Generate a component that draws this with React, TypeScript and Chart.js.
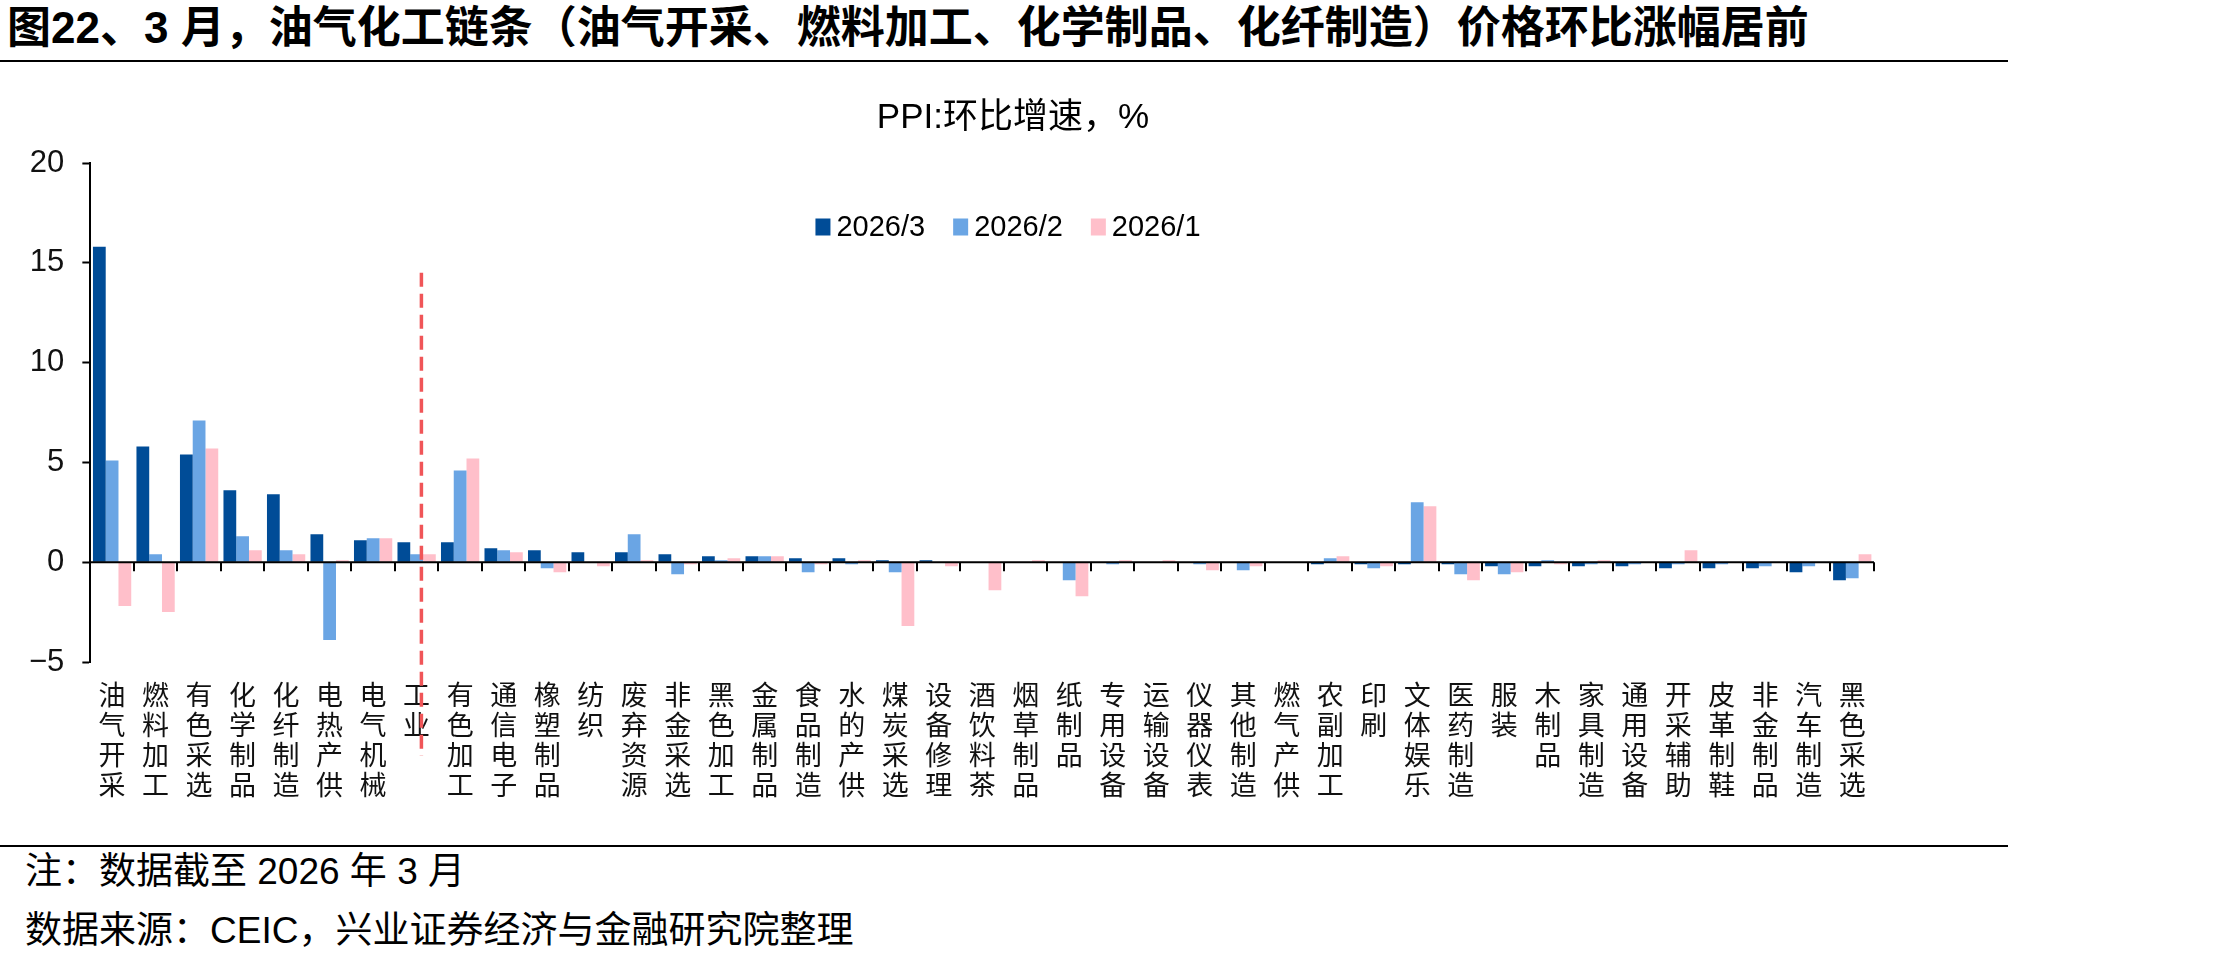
import React, { useEffect, useRef } from 'react';
import { Chart, registerables } from 'chart.js';

Chart.register(...registerables);

const FONT = '"Liberation Sans", "Noto Sans CJK SC", sans-serif';

const pageTitle = '图22、3 月，油气化工链条（油气开采、燃料加工、化学制品、化纤制造）价格环比涨幅居前';
const chartTitle = 'PPI:环比增速，%';
const noteText = '注：数据截至 2026 年 3 月';
const sourceText = '数据来源：CEIC，兴业证券经济与金融研究院整理';

const categories = [
  '油气开采', '燃料加工', '有色采选', '化学制品', '化纤制造', '电热产供', '电气机械', '工业',
  '有色加工', '通信电子', '橡塑制品', '纺织', '废弃资源', '非金采选', '黑色加工', '金属制品',
  '食品制造', '水的产供', '煤炭采选', '设备修理', '酒饮料茶', '烟草制品', '纸制品', '专用设备',
  '运输设备', '仪器仪表', '其他制造', '燃气产供', '农副加工', '印刷', '文体娱乐', '医药制造',
  '服装', '木制品', '家具制造', '通用设备', '开采辅助', '皮革制鞋', '非金制品', '汽车制造', '黑色采选',
];

const seriesMar = [
  15.8, 5.8, 5.4, 3.6, 3.4, 1.4, 1.1, 1.0,
  1.0, 0.7, 0.6, 0.5, 0.5, 0.4, 0.3, 0.3,
  0.2, 0.2, 0.1, 0.1, 0.0, 0.0, 0.0, 0.0,
  0.0, 0.0, 0.0, 0.0, -0.1, -0.1, -0.1, -0.1,
  -0.2, -0.2, -0.2, -0.2, -0.3, -0.3, -0.3, -0.5, -0.9,
];
const seriesFeb = [
  5.1, 0.4, 7.1, 1.3, 0.6, -3.9, 1.2, 0.4,
  4.6, 0.6, -0.3, 0.0, 1.4, -0.6, 0.1, 0.3,
  -0.5, -0.1, -0.5, 0.0, 0.0, 0.0, -0.9, -0.1,
  0.0, -0.1, -0.4, 0.0, 0.2, -0.3, 3.0, -0.6,
  -0.6, 0.1, -0.1, -0.1, -0.1, -0.1, -0.2, -0.2, -0.8,
];
const seriesJan = [
  -2.2, -2.5, 5.7, 0.6, 0.4, 0.1, 1.2, 0.4,
  5.2, 0.5, -0.5, -0.2, 0.1, -0.1, 0.2, 0.3,
  -0.1, 0.1, -3.2, -0.2, -1.4, 0.1, -1.7, 0.1,
  0.1, -0.4, -0.2, 0.0, 0.3, -0.2, 2.8, -0.9,
  -0.5, -0.1, 0.1, 0.0, 0.6, 0.0, 0.0, 0.0, 0.4,
];

const seriesLabels = ['2026/3', '2026/2', '2026/1'];
const seriesColors = ['#004C97', '#6AA5E4', '#FFBFCA'];

const yMin = -5;
const yMax = 20;
const yStep = 5;

const dividerAfterIndex = 7; // 工业
const dividerTopValue = 14.5;

const titleLegendPlugin = {
  id: 'titleLegend',
  afterDraw(chart: any) {
    const ctx = chart.ctx;
    const ds = chart.data.datasets;
    ctx.save();
    // chart title
    ctx.font = `35px ${FONT}`;
    ctx.fillStyle = '#000';
    ctx.textAlign = 'center';
    ctx.textBaseline = 'middle';
    ctx.fillText(chartTitle, 1013, 54);
    // legend
    ctx.font = `29px ${FONT}`;
    const boxW = 15, boxH = 17, gapText = 6, gapItem = 28;
    const widths = ds.map((d: any) => boxW + gapText + ctx.measureText(d.label).width);
    const total = widths.reduce((a: number, b: number) => a + b, 0) + gapItem * (ds.length - 1);
    let x = 1008 - total / 2;
    const y = 163;
    ds.forEach((d: any, i: number) => {
      ctx.fillStyle = d.backgroundColor;
      ctx.fillRect(x, y - boxH / 2, boxW, boxH);
      ctx.fillStyle = '#000';
      ctx.textBaseline = 'middle';
      ctx.textAlign = 'left';
      ctx.fillText(d.label, x + boxW + gapText, y + 1);
      x += widths[i] + gapItem;
    });
    ctx.restore();
  },
};

const axisPlugin = {
  id: 'zeroAxis',
  afterDraw(chart: any) {
    const ctx = chart.ctx;
    const xs = chart.scales.x;
    const ys = chart.scales.y;
    const y0 = ys.getPixelForValue(0);
    const n = chart.data.labels.length;
    const step = xs.getPixelForValue(1) - xs.getPixelForValue(0);
    const start = xs.getPixelForValue(0) - step / 2;
    ctx.save();
    ctx.strokeStyle = '#000';
    ctx.lineWidth = 2;
    ctx.beginPath();
    ctx.moveTo(chart.chartArea.left, y0);
    ctx.lineTo(chart.chartArea.right, y0);
    for (let i = 0; i <= n; i++) {
      const px = Math.round(start + i * step);
      ctx.moveTo(px, y0);
      ctx.lineTo(px, y0 + 9);
    }
    ctx.stroke();

    // red dashed divider
    const dx = xs.getPixelForValue(dividerAfterIndex) + step * 0.11;
    ctx.strokeStyle = '#F05558';
    ctx.lineWidth = 3.5;
    ctx.setLineDash([14, 7]);
    ctx.beginPath();
    ctx.moveTo(dx, ys.getPixelForValue(dividerTopValue));
    ctx.lineTo(dx, chart.chartArea.bottom + 94);
    ctx.stroke();
    ctx.restore();
  },
};

function PpiChart() {
  const ref = useRef<HTMLCanvasElement | null>(null);
  useEffect(() => {
    if (!ref.current) return;
    const chart = new Chart(ref.current, {
      type: 'bar',
      data: {
        labels: categories.map((c) => c.split('')),
        datasets: [seriesMar, seriesFeb, seriesJan].map((d, i) => ({
          label: seriesLabels[i],
          data: d,
          backgroundColor: seriesColors[i],
          borderWidth: 0,
          categoryPercentage: 0.88,
          barPercentage: 1.0,
        })),
      },
      options: {
        animation: false,
        responsive: true,
        maintainAspectRatio: false,
        layout: { padding: { left: 11, right: 152, top: 99, bottom: 22 } },
        plugins: {
          legend: { display: false },
          tooltip: { enabled: false },
          title: { display: false },
        },
        scales: {
          x: {
            grid: { display: false, drawTicks: false },
            border: { display: false },
            ticks: {
              autoSkip: false,
              maxRotation: 0,
              minRotation: 0,
              padding: 21,
              color: '#111',
              font: { family: FONT, size: 27, lineHeight: 1.111 },
            },
          },
          y: {
            min: yMin,
            max: yMax,
            ticks: {
              stepSize: yStep,
              padding: 18,
              color: '#111',
              font: { family: FONT, size: 31 },
              callback: (v: any) => (Number(v) < 0 ? '\u2212' + Math.abs(Number(v)) : String(v)),
            },
            grid: {
              drawOnChartArea: false,
              drawTicks: true,
              tickLength: 8,
              tickColor: '#000',
              tickWidth: 2,
            },
            border: { display: true, color: '#000', width: 2 },
          },
        },
      },
      plugins: [titleLegendPlugin, axisPlugin],
    });
    return () => chart.destroy();
  }, []);
  return <canvas ref={ref} />;
}

export default function App() {
  return (
    <div style={{ position: 'absolute', left: 0, top: 0, width: 2221, height: 961, background: '#fff', overflow: 'hidden' }}>
      <div style={{ position: 'absolute', left: 7, top: 4, font: `bold 44px ${FONT}`, lineHeight: '48px', whiteSpace: 'nowrap', color: '#000' }}>
        {pageTitle}
      </div>
      <div style={{ position: 'absolute', left: 0, top: 60, width: 2008, height: 2, background: '#000' }} />
      <div style={{ position: 'absolute', left: 0, top: 64, width: 2026, height: 782 }}>
        <PpiChart />
      </div>
      <div style={{ position: 'absolute', left: 0, top: 845, width: 2008, height: 2, background: '#000' }} />
      <div style={{ position: 'absolute', left: 25, top: 852, font: `37px ${FONT}`, lineHeight: '40px', whiteSpace: 'nowrap', color: '#000' }}>
        {noteText}
      </div>
      <div style={{ position: 'absolute', left: 25, top: 911, font: `37px ${FONT}`, lineHeight: '40px', whiteSpace: 'nowrap', color: '#000' }}>
        {sourceText}
      </div>
    </div>
  );
}
